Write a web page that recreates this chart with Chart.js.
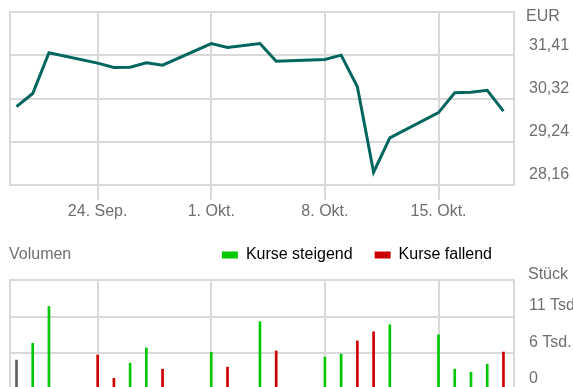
<!DOCTYPE html>
<html lang="de">
<head>
<meta charset="utf-8">
<title>Kursverlauf</title>
<script src="https://cdn.jsdelivr.net/npm/chart.js@4.4.1/dist/chart.umd.min.js"></script>
<style>
  html, body { margin: 0; padding: 0; background: #fff; overflow: hidden; }
  body { width: 573px; height: 387px; position: relative; }
  #priceChart { position: absolute; left: 0; top: 0; }
  #volumeChart { position: absolute; left: 0; top: 225px; }
</style>
</head>
<body>
<canvas id="priceChart" width="600" height="230"></canvas>
<canvas id="volumeChart" width="600" height="172"></canvas>
<script>
// trading days and daily values
const tradingDays = [
  '2018-09-19', '2018-09-20', '2018-09-21', '2018-09-24', '2018-09-25', '2018-09-26',
  '2018-09-27', '2018-09-28', '2018-10-01', '2018-10-02', '2018-10-04', '2018-10-05',
  '2018-10-08', '2018-10-09', '2018-10-10', '2018-10-11', '2018-10-12', '2018-10-15',
  '2018-10-16', '2018-10-17', '2018-10-18', '2018-10-19'
];
const closes = [
  30.12, 30.45, 31.47, 31.21, 31.10, 31.11,
  31.22, 31.16, 31.70, 31.60, 31.70, 31.26,
  31.30, 31.41, 30.62, 28.48, 29.34, 29.97,
  30.47, 30.48, 30.53, 30.01
];
const volumes = [
  4570, 7140, 12750, 5340, 1790, 4100,
  6420, 3180, 5760, 3490, 10430, 5960,
  5030, 5490, 7500, 8890, 9970, 8430,
  3180, 2720, 3950, 5800
];

// axis ticks
const xTickDates = ['2018-09-24', '2018-10-01', '2018-10-08', '2018-10-15'];
const xTickLabels = ['24. Sep.', '1. Okt.', '8. Okt.', '15. Okt.'];
const priceTicks = [28.16, 29.24, 30.32, 31.41, 32.49];
const volumeTicks = [0, 5600, 11200, 16800];

const gridColor = '#d9d9d9';
const textColor = '#6e6e6e';
const lineColor = '#00665e';
const upColor = '#00c800';
const downColor = '#cc0000';
const firstColor = '#606060';

Chart.defaults.font.family = 'Arial, "Liberation Sans", sans-serif';
Chart.defaults.font.size = 16;
Chart.defaults.color = textColor;

// day number counted from 24 Sep
const baseDay = Date.UTC(2018, 8, 24);
function dayIndex(iso) {
  const p = iso.split('-').map(Number);
  return Math.round((Date.UTC(p[0], p[1] - 1, p[2]) - baseDay) / 86400000);
}
const xs = tradingDays.map(dayIndex);
const xTicks = xTickDates.map(dayIndex);

// volume bars: green if the close went up, red if down
const barColors = volumes.map((v, i) => {
  if (i === 0) return firstColor;
  return closes[i] >= closes[i - 1] ? upColor : downColor;
});

// frame around the plot area
const framePlugin = {
  id: 'frame',
  beforeDatasetsDraw(chart) {
    const a = chart.chartArea;
    const ctx = chart.ctx;
    ctx.save();
    ctx.strokeStyle = gridColor;
    ctx.lineWidth = 2;
    ctx.strokeRect(a.left, a.top, a.right - a.left, a.bottom - a.top);
    ctx.restore();
  }
};

// small captions (unit, title)
const captionPlugin = {
  id: 'captions',
  afterDraw(chart, args, opts) {
    const ctx = chart.ctx;
    ctx.save();
    ctx.font = '16px Arial, "Liberation Sans", sans-serif';
    ctx.fillStyle = textColor;
    ctx.textBaseline = 'middle';
    ctx.textAlign = 'left';
    (opts.items || []).forEach((it) => ctx.fillText(it.text, it.x, it.y));
    ctx.restore();
  }
};

const xMin = -5.4;
const xMax = 25.65;

// shared day axis; the volume chart keeps it on top without labels
function xScale(showLabels) {
  return {
    type: 'linear',
    position: showLabels ? 'bottom' : 'top',
    min: xMin,
    max: xMax,
    offset: false,
    afterBuildTicks: (scale) => {
      scale.ticks = xTicks.map((v) => ({ value: v }));
    },
    afterFit: (scale) => {
      scale.height = showLabels ? 45 : 7;
      scale.paddingLeft = scale.paddingRight = 0;
    },
    grid: {
      color: gridColor,
      lineWidth: 2,
      offset: false,
      drawTicks: showLabels,
      tickLength: 15
    },
    border: { color: gridColor, width: 2 },
    ticks: {
      display: showLabels,
      padding: 2,
      maxRotation: 0,
      callback: (value) => xTickLabels[xTicks.indexOf(value)] || ''
    }
  };
}

// value axis on the right, labels sit just above their grid line
function yScale(ticks, offset, format) {
  return {
    position: 'right',
    min: ticks[0],
    max: ticks[ticks.length - 1],
    afterBuildTicks: (scale) => {
      scale.ticks = ticks.map((v) => ({ value: v }));
    },
    afterFit: (scale) => {
      scale.width = 86;
      scale.paddingTop = scale.paddingBottom = 0;
    },
    grid: { color: gridColor, lineWidth: 2, drawTicks: false },
    border: { color: gridColor, width: 2 },
    ticks: {
      padding: 15,
      labelOffset: offset,
      callback: (value) => value === ticks[ticks.length - 1] ? '' : format(value)
    }
  };
}

const priceChart = new Chart(document.getElementById('priceChart'), {
  type: 'line',
  data: {
    datasets: [{
      label: 'Kurs',
      data: xs.map((x, i) => ({ x: x, y: closes[i] })),
      borderColor: lineColor,
      borderWidth: 3,
      pointRadius: 0,
      tension: 0,
      fill: false
    }]
  },
  options: {
    responsive: false,
    animation: false,
    layout: { padding: { left: 10, top: 12, right: 0, bottom: 0 } },
    plugins: {
      legend: { display: false },
      tooltip: { enabled: false },
      captions: { items: [{ text: 'EUR', x: 526, y: 17 }] }
    },
    scales: {
      x: xScale(true),
      y: yScale(priceTicks, -10, (v) => v.toFixed(2).replace('.', ','))
    }
  },
  plugins: [framePlugin, captionPlugin]
});

const volumeChart = new Chart(document.getElementById('volumeChart'), {
  type: 'bar',
  data: {
    datasets: [{
      label: 'Volumen',
      data: xs.map((x, i) => ({ x: x, y: volumes[i] })),
      backgroundColor: barColors,
      borderWidth: 0,
      barThickness: 2
    }]
  },
  options: {
    responsive: false,
    animation: false,
    layout: { padding: { left: 10, top: 0, right: 0, bottom: 7 } },
    plugins: {
      legend: {
        position: 'top',
        align: 'end',
        fullSize: false,
        labels: {
          boxWidth: 16,
          boxHeight: 7,
          padding: 22,
          color: textColor,
          generateLabels: () => [
            { text: 'Kurse steigend', fillStyle: upColor, strokeStyle: upColor, lineWidth: 0 },
            { text: 'Kurse fallend', fillStyle: downColor, strokeStyle: downColor, lineWidth: 0 }
          ]
        }
      },
      tooltip: { enabled: false },
      captions: {
        items: [
          { text: 'Volumen', x: 9, y: 30 },
          { text: 'Stück', x: 528, y: 50 }
        ]
      }
    },
    scales: {
      x: xScale(false),
      y: yScale(volumeTicks, -11, (v) => v === 0 ? '0' : Math.round(v / 1000) + ' Tsd.')
    }
  },
  plugins: [framePlugin, captionPlugin]
});
</script>
</body>
</html>
